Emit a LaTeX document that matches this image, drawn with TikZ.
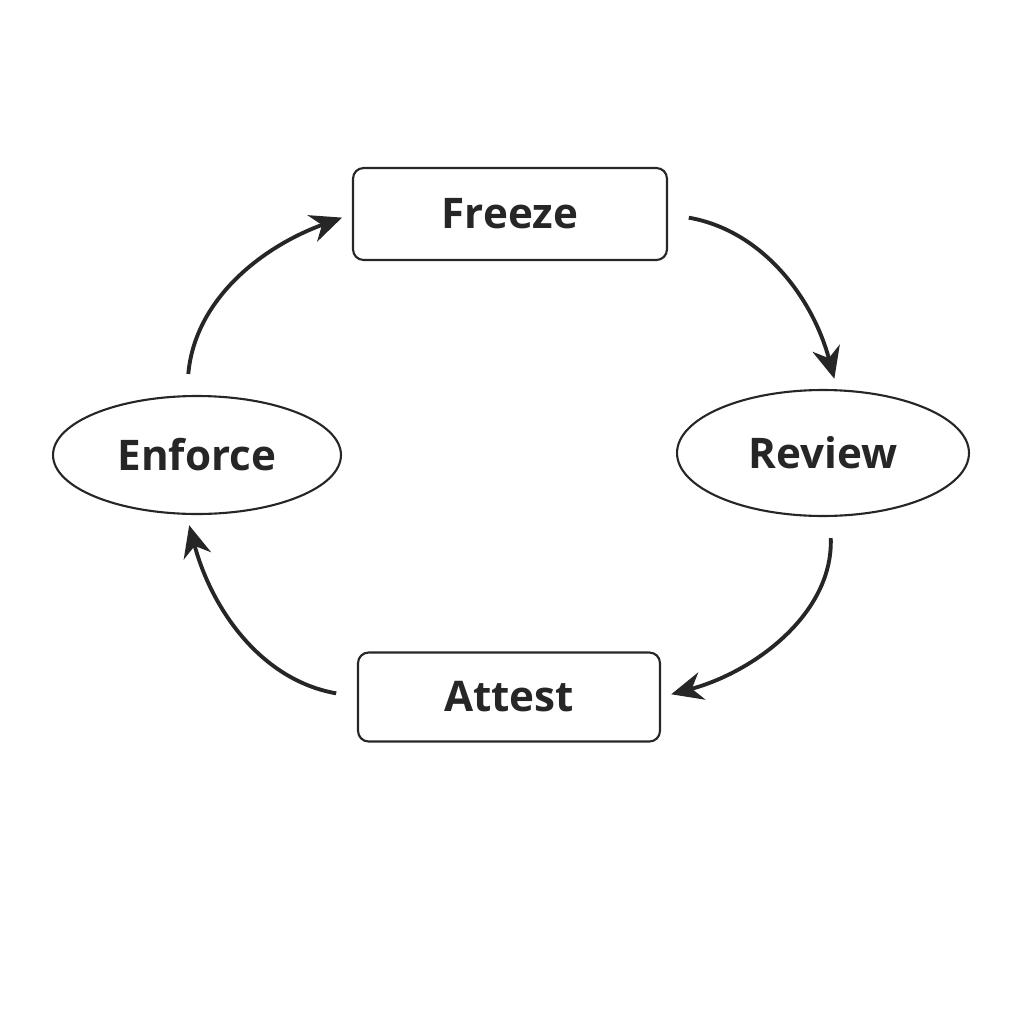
\documentclass[tikz,border=0pt]{standalone}
\usepackage{fontspec}
\setmainfont{Open Sans}
\usetikzlibrary{shapes.geometric, arrows.meta}
\tikzstyle{stage} = [rectangle, rounded corners=6pt, line width=1.2pt, draw=black!85, minimum width=6.28cm, minimum height=1.84cm, font=\fontsize{24}{28}\selectfont\bfseries, text=black!85]
\tikzstyle{phase} = [ellipse, line width=1.2pt, draw=black!85, font=\fontsize{24}{28}\selectfont\bfseries, text=black!85, inner sep=0pt]
\tikzstyle{arrow} = [line width=2.2pt, draw=black!85, -{Stealth[length=18pt,width=16pt]}, shorten <=12pt, shorten >=6pt]

\begin{document}
\begin{tikzpicture}[x=0.02cm, y=-0.02cm]
				\useasboundingbox (0,0) rectangle (1024,1024);
				\node (freeze) [stage] at (510,214) {Freeze};
				\node (review) [phase, minimum width=5.84cm, minimum height=2.52cm] at (823,453) {Review};
				\node (attest) [stage, minimum width=6.04cm, minimum height=1.78cm] at (509,697) {Attest};
				\node (enforce) [phase, minimum width=5.76cm, minimum height=2.36cm] at (197,455) {Enforce};
				\draw [arrow] (freeze.east) to[out=-10, in=105] ([xshift=8pt]review.north);
				\draw [arrow] ([xshift=4pt]review.south) to[out=-88, in=15] (attest.east);
				\draw [arrow] (attest.west) to[out=170, in=-75] ([xshift=-6pt]enforce.south);
				\draw [arrow] ([xshift=-6pt]enforce.north) to[out=85, in=200] (freeze.west);
			\end{tikzpicture}
\end{document}
